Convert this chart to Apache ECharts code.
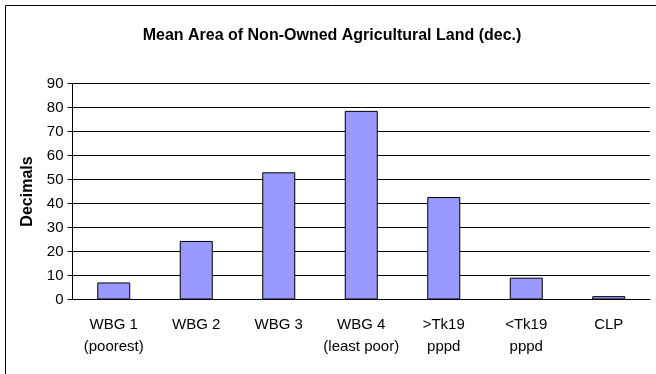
<!DOCTYPE html>
<html>
<head>
<meta charset="utf-8">
<script src="https://cdn.jsdelivr.net/npm/echarts@6/dist/echarts.min.js"></script>
<style>
  html, body { margin: 0; padding: 0; background: #fff; }
  #chart { width: 656px; height: 374px; }
</style>
</head>
<body>
<div id="chart"></div>
<script>
// data
var categories = ['WBG 1\n(poorest)', 'WBG 2', 'WBG 3', 'WBG 4\n(least poor)', '>Tk19\npppd', '<Tk19\npppd', 'CLP'];
var values = [7.1, 24.4, 53.0, 78.6, 42.7, 9.1, 1.4];
var yTicks = { min: 0, max: 90, step: 10 };

var chart = echarts.init(document.getElementById('chart'));
chart.setOption({
  animation: false,
  textStyle: { fontFamily: 'Liberation Sans, Arial, sans-serif' },
  graphic: [{
    type: 'rect',
    shape: { x: 5.5, y: 5.5, width: 700, height: 400 },
    style: { fill: 'none', stroke: '#000', lineWidth: 1 },
    silent: true
  }],
  title: {
    text: 'Mean Area of Non-Owned Agricultural Land (dec.)',
    left: 327, top: 23, textAlign: 'center',
    textStyle: { fontSize: 16, fontWeight: 'bold', color: '#000' }
  },
  grid: { left: 72.5, right: 6, top: 83.5, bottom: 74.5 },
  xAxis: {
    type: 'category',
    data: categories,
    axisLine: { lineStyle: { color: '#000' } },
    axisTick: { length: 5, lineStyle: { color: '#000' } },
    axisLabel: { color: '#000', fontSize: 15, margin: 14, lineHeight: 22, interval: 0 }
  },
  yAxis: {
    type: 'value',
    min: yTicks.min, max: yTicks.max, interval: yTicks.step,
    name: 'Decimals',
    nameLocation: 'middle',
    nameGap: 31,
    nameTextStyle: { color: '#000', fontSize: 16, fontWeight: 'bold' },
    axisLine: { show: true, lineStyle: { color: '#000' } },
    axisTick: { show: true, length: 5, lineStyle: { color: '#000' } },
    axisLabel: { color: '#000', fontSize: 15, margin: 9 },
    splitLine: { lineStyle: { color: '#000', width: 1 } }
  },
  series: [{
    type: 'bar',
    data: values,
    barWidth: '40%',
    itemStyle: { color: '#9999FF', borderColor: '#000', borderWidth: 1 }
  }]
});
</script>
</body>
</html>
